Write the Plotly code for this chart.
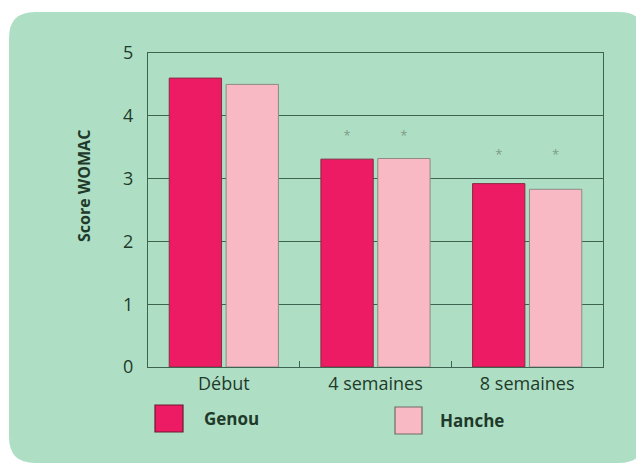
import plotly.graph_objects as go

categories = ["Début", "4 semaines", "8 semaines"]
series_names = ["Genou", "Hanche"]
genou = [4.6, 3.31, 2.92]
hanche = [4.5, 3.32, 2.83]
star_genou = [None, 3.67, 3.37]
star_hanche = [None, 3.67, 3.37]
y_ticks = [0, 1, 2, 3, 4, 5]

C_GENOU = "#ec1b63"
C_HANCHE = "#f8b8c4"
C_BG = "#aedfc5"
C_LINE = "#3d6450"
C_TEXT = "#1f3a2a"
FONT = "Open Sans, Noto Sans, sans-serif"

OFF = 8  # page body margin
W_FIG, H_FIG = 644 - OFF, 464 - OFF
L, R, T, B = 148 - OFF, 603 - OFF, 53 - OFF, 367 - OFF
PW, PH = R - L, B - T

def px(X):
    return (X - OFF - L) / PW

def py(Y):
    return (B - (Y - OFF)) / PH

fig = go.Figure()
fig.add_trace(go.Bar(x=categories, y=genou, name=series_names[0], offsetgroup="g",
                     marker=dict(color=C_GENOU, line=dict(color="#8a2a45", width=1)),
                     showlegend=False))
fig.add_trace(go.Bar(x=categories, y=hanche, name=series_names[1], offsetgroup="h",
                     marker=dict(color=C_HANCHE, line=dict(color="#8f8a86", width=1)),
                     showlegend=False))
for sy, og in ((star_genou, "g"), (star_hanche, "h")):
    fig.add_trace(go.Scatter(x=categories, y=sy, offsetgroup=og, mode="text",
                             text=["*" if v is not None else "" for v in sy],
                             textfont=dict(size=13, color="#7f9c8a", family=FONT),
                             showlegend=False, hoverinfo="skip"))

# rounded green background
X0, X1, Y0, Y1, r = 9, 645, 12, 463, 26
rx, ry = r / PW, r / PH
x0, x1, y0, y1 = px(X0), px(X1), py(Y0), py(Y1)
path = (f"M {x0+rx},{y0} L {x1-rx},{y0} Q {x1},{y0} {x1},{y0-ry} "
        f"L {x1},{y1+ry} Q {x1},{y1} {x1-rx},{y1} "
        f"L {x0+rx},{y1} Q {x0},{y1} {x0},{y1+ry} "
        f"L {x0},{y0-ry} Q {x0},{y0} {x0+rx},{y0} Z")
shapes = [dict(type="path", path=path, xref="paper", yref="paper",
               fillcolor=C_BG, line=dict(width=0), layer="below")]

# legend boxes
legend_items = [(series_names[0], C_GENOU, "#6a1a30", 155, 183, 405, 432, 202),
                (series_names[1], C_HANCHE, "#6f6a66", 395, 422, 407, 434, 438)]
annotations = []
for name, col, lc, bx0, bx1, by0, by1, tx in legend_items:
    shapes.append(dict(type="rect", xref="paper", yref="paper",
                       x0=px(bx0), x1=px(bx1), y0=py(by1), y1=py(by0),
                       fillcolor=col, line=dict(color=lc, width=1.2)))
    annotations.append(dict(text=f"<b>{name}</b>", xref="paper", yref="paper",
                            x=px(tx), y=py((by0 + by1) / 2), xanchor="left", yanchor="middle",
                            showarrow=False, font=dict(size=17, color=C_TEXT, family=FONT)))

annotations.append(dict(text="<b>Score WOMAC</b>", xref="paper", yref="paper",
                        x=px(84), y=py(186), textangle=-90, showarrow=False,
                        xanchor="center", yanchor="middle",
                        font=dict(size=16, color=C_TEXT, family=FONT)))

fig.update_layout(
    width=W_FIG, height=H_FIG,
    margin=dict(l=L, r=W_FIG - R, t=T, b=H_FIG - B),
    paper_bgcolor="white", plot_bgcolor="rgba(0,0,0,0)",
    barmode="group", scattermode="group", bargap=0.25, bargroupgap=0.08,
    shapes=shapes, annotations=annotations,
    font=dict(family=FONT, color=C_TEXT),
)
fig.update_yaxes(range=[0, 5], tickvals=y_ticks, showgrid=True, gridcolor=C_LINE, gridwidth=1.3,
                 showline=True, linecolor=C_LINE, linewidth=1.3, mirror=True,
                 zeroline=False, ticks="", ticklabelstandoff=10,
                 tickfont=dict(size=18, color=C_TEXT, family=FONT))
fig.update_xaxes(showline=True, linecolor=C_LINE, linewidth=1.3, mirror=True,
                 ticks="inside", tickson="boundaries", ticklen=6, tickcolor=C_LINE,
                 showgrid=False, tickfont=dict(size=18, color=C_TEXT, family=FONT))

fig.write_html("out.html")
